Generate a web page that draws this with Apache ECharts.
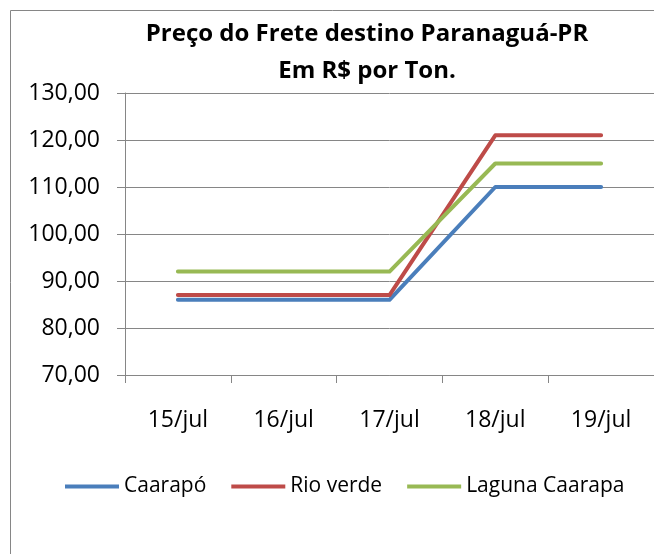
<!DOCTYPE html>
<html><head><meta charset="utf-8">
<script src="https://cdn.jsdelivr.net/npm/echarts@6/dist/echarts.min.js"></script>
<style>html,body{margin:0;padding:0;background:#fff}#c{width:654px;height:554px}</style>
</head><body><div id="c"></div>
<script>
const categories = ['15/jul','16/jul','17/jul','18/jul','19/jul'];
const caarapo = [86, 86, 86, 110, 110];
const rioVerde = [87, 87, 87, 121, 121];
const lagunaCaarapa = [92, 92, 92, 115, 115];
const seriesNames = ['Caarapó','Rio verde','Laguna Caarapa'];
const colors = ['#4A7EBB','#BE4B48','#98B954'];
const font = 'Open Sans';
const chart = echarts.init(document.getElementById('c'));
const mk = (name, data, color) => ({
  name, type: 'line', data, symbol: 'none', smooth: false,
  lineStyle: {width: 4, color, cap: 'round', join: 'round'}, itemStyle: {color}
});
chart.setOption({
  animation: false,
  graphic: [{type: 'rect', shape: {x: 10.5, y: 10.5, width: 700, height: 700}, style: {fill: 'none', stroke: '#868686', lineWidth: 1}, silent: true, z: -1}],
  title: {
    text: 'Preço do Frete destino Paranaguá-PR\nEm R$ por Ton.',
    left: 367, top: 16, textAlign: 'center', padding: 0,
    textStyle: {fontFamily: font, fontWeight: 'bold', fontSize: 24, lineHeight: 37, color: '#000'}
  },
  legend: {
    data: seriesNames, left: 65, top: 476, padding: 0, itemWidth: 54, itemHeight: 4, itemGap: 25,
    icon: 'rect',
    textStyle: {fontFamily: font, fontSize: 21, color: '#000'}
  },
  grid: {left: 125, top: 93, width: 535, height: 282, containLabel: false},
  xAxis: {
    type: 'category', data: categories, boundaryGap: true,
    axisLine: {lineStyle: {color: '#868686', width: 1}},
    axisTick: {show: true, length: 8, lineStyle: {color: '#868686'}},
    axisLabel: {fontFamily: font, fontSize: 23, color: '#000', margin: 34}
  },
  yAxis: {
    type: 'value', min: 70, max: 130, interval: 10,
    axisLine: {show: true, lineStyle: {color: '#868686', width: 1}},
    axisTick: {show: true, length: 8, lineStyle: {color: '#868686'}},
    splitLine: {show: true, lineStyle: {color: '#868686', width: 1}},
    axisLabel: {fontFamily: font, fontSize: 23, color: '#000', margin: 25,
      formatter: v => v.toFixed(2).replace('.', ',')}
  },
  series: [mk(seriesNames[0], caarapo, colors[0]), mk(seriesNames[1], rioVerde, colors[1]), mk(seriesNames[2], lagunaCaarapa, colors[2])]
});
</script></body></html>
